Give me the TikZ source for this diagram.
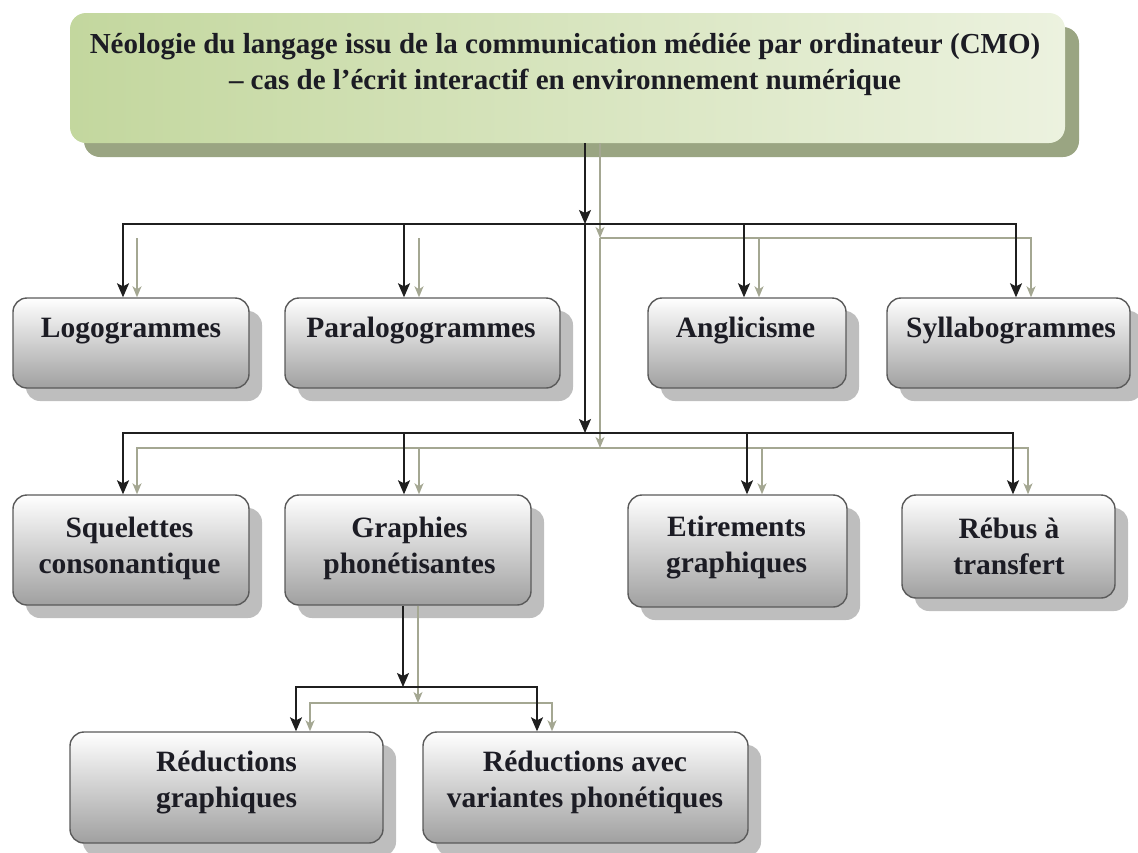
\documentclass[tikz,border=0pt]{standalone}
\usepackage{fontspec}
\setmainfont{Liberation Serif}
\usetikzlibrary{arrows.meta,shadows}
\definecolor{txtcol}{HTML}{1C1C24}
\definecolor{boxedge}{HTML}{5A5A5A}
\definecolor{boxbot}{HTML}{A0A0A0}
\definecolor{boxmid}{HTML}{E2E2E2}
\definecolor{boxshadow}{HTML}{BEBEBE}
\definecolor{greenL}{HTML}{C3D79E}
\definecolor{greenM}{HTML}{DDE8C8}
\definecolor{greenR}{HTML}{ECF2DF}
\definecolor{greenshadow}{HTML}{9AA582}
\definecolor{grayline}{HTML}{A4A792}
\begin{document}
\begin{tikzpicture}[x=1pt,y=-1pt,
  box/.style={rounded corners=14pt, draw=boxedge, line width=1.4pt,
    top color=white, middle color=boxmid, bottom color=boxbot,
    inner sep=0pt,
    general shadow={fill=boxshadow, shadow xshift=13pt, shadow yshift=-13pt}},
  titlebox/.style={rounded corners=16pt, draw=none,
    left color=greenL, middle color=greenM, right color=greenR,
    inner sep=0pt,
    general shadow={fill=greenshadow, shadow xshift=14pt, shadow yshift=-14pt}},
  lbl/.style={font=\fontsize{29.5}{36}\selectfont\bfseries, text=txtcol, align=center, inner sep=0pt},
  ttl/.style={font=\fontsize{29}{36}\selectfont\bfseries, text=txtcol, align=center, inner sep=0pt},
  blk/.style={draw=black!88, line width=1.5pt, -{Stealth[length=14pt,width=12pt,inset=3pt]}},
  gry/.style={draw=grayline, line width=1.5pt, -{Stealth[length=11pt,width=9pt,inset=3pt]}}
]
\useasboundingbox (0,0) rectangle (1138,852);

% title
\node[titlebox, minimum width=995pt, minimum height=130pt] (top) at (567.5,78) {};
\node[ttl] (top-t) at (565,65) {Néologie du langage issu de la communication médiée par ordinateur (CMO)\\– cas de l’écrit interactif en environnement numérique};

% row 1
\node[box, minimum width=236pt, minimum height=90pt] (logo) at (131,343) {};
\node[box, minimum width=275pt, minimum height=90pt] (para) at (422.5,343) {};
\node[box, minimum width=198pt, minimum height=90pt] (angl) at (747,343) {};
\node[box, minimum width=243pt, minimum height=90pt] (syll) at (1008.5,343) {};
\node[lbl] (logo-t) at (131,331) {Logogrammes};
\node[lbl] (para-t) at (421,331) {Paralogogrammes};
\node[lbl] (angl-t) at (745.5,331) {Anglicisme};
\node[lbl] (syll-t) at (1011,331) {Syllabogrammes};

% row 2
\node[box, minimum width=236pt, minimum height=110pt] (sq) at (131,550) {};
\node[box, minimum width=246pt, minimum height=110pt] (graph) at (408,550) {};
\node[box, minimum width=219pt, minimum height=112pt] (etir) at (737.5,551) {};
\node[box, minimum width=213pt, minimum height=103pt] (rebus) at (1008.5,546.5) {};
\node[lbl] (sq-t) at (129.5,548) {Squelettes\\consonantique};
\node[lbl] (graph-t) at (409.5,548) {Graphies\\phonétisantes};
\node[lbl] (etir-t) at (736.5,548) {Etirements\\graphiques};
\node[lbl] (rebus-t) at (1009,546) {Rébus à\\transfert};

% row 3
\node[box, minimum width=313pt, minimum height=111pt] (red1) at (226.5,787.5) {};
\node[box, minimum width=325pt, minimum height=111pt] (red2) at (585.5,787.5) {};
\node[lbl] (red1-t) at (226.5,782) {Réductions\\graphiques};
\node[lbl] (red2-t) at (585,782) {Réductions avec\\variantes phonétiques};

% junctions
\coordinate (bj1) at (585,224);
\coordinate (gj1) at (600,238);
\coordinate (bj2) at (585,433);
\coordinate (gj2) at (600,448);
\coordinate (bj3) at (403,687);
\coordinate (gj3) at (418,703);

% grey connectors (behind)
\draw[gry] (top.south -| gj1) -- (gj1);
\draw[gry] (gj1) -- (gj2);
\draw[gry] ([xshift=6pt]logo.north |- gj1) -- ([xshift=6pt]logo.north);
\draw[gry] ([xshift=-3.5pt]para.north |- gj1) -- ([xshift=-3.5pt]para.north);
\draw[gry] (gj1) -| ([xshift=12pt]angl.north);
\draw[gry] (gj1) -| ([xshift=22.5pt]syll.north);
\draw[gry] (gj2) -| ([xshift=6pt]sq.north);
\draw[gry] (gj2) -| ([xshift=11pt]graph.north);
\draw[gry] (gj2) -| ([xshift=24.5pt]etir.north);
\draw[gry] (gj2) -| ([xshift=19.5pt]rebus.north);
\draw[gry] (graph.south -| gj3) -- (gj3);
\draw[gry] (gj3) -| ([xshift=83.5pt]red1.north);
\draw[gry] (gj3) -| ([xshift=-33.5pt]red2.north);

% black connectors
\draw[blk] (top.south -| bj1) -- (bj1);
\draw[blk] (bj1) -- (bj2);
\draw[blk] (bj1) -| ([xshift=-8pt]logo.north);
\draw[blk] (bj1) -| ([xshift=-18.5pt]para.north);
\draw[blk] (bj1) -| ([xshift=-3pt]angl.north);
\draw[blk] (bj1) -| ([xshift=7.5pt]syll.north);
\draw[blk] (bj2) -| ([xshift=-8pt]sq.north);
\draw[blk] (bj2) -| ([xshift=-4pt]graph.north);
\draw[blk] (bj2) -| ([xshift=9.5pt]etir.north);
\draw[blk] (bj2) -| ([xshift=4.5pt]rebus.north);
\draw[blk] (graph.south -| bj3) -- (bj3);
\draw[blk] (bj3) -| ([xshift=69.5pt]red1.north);
\draw[blk] (bj3) -| ([xshift=-48.5pt]red2.north);
\end{tikzpicture}
\end{document}
